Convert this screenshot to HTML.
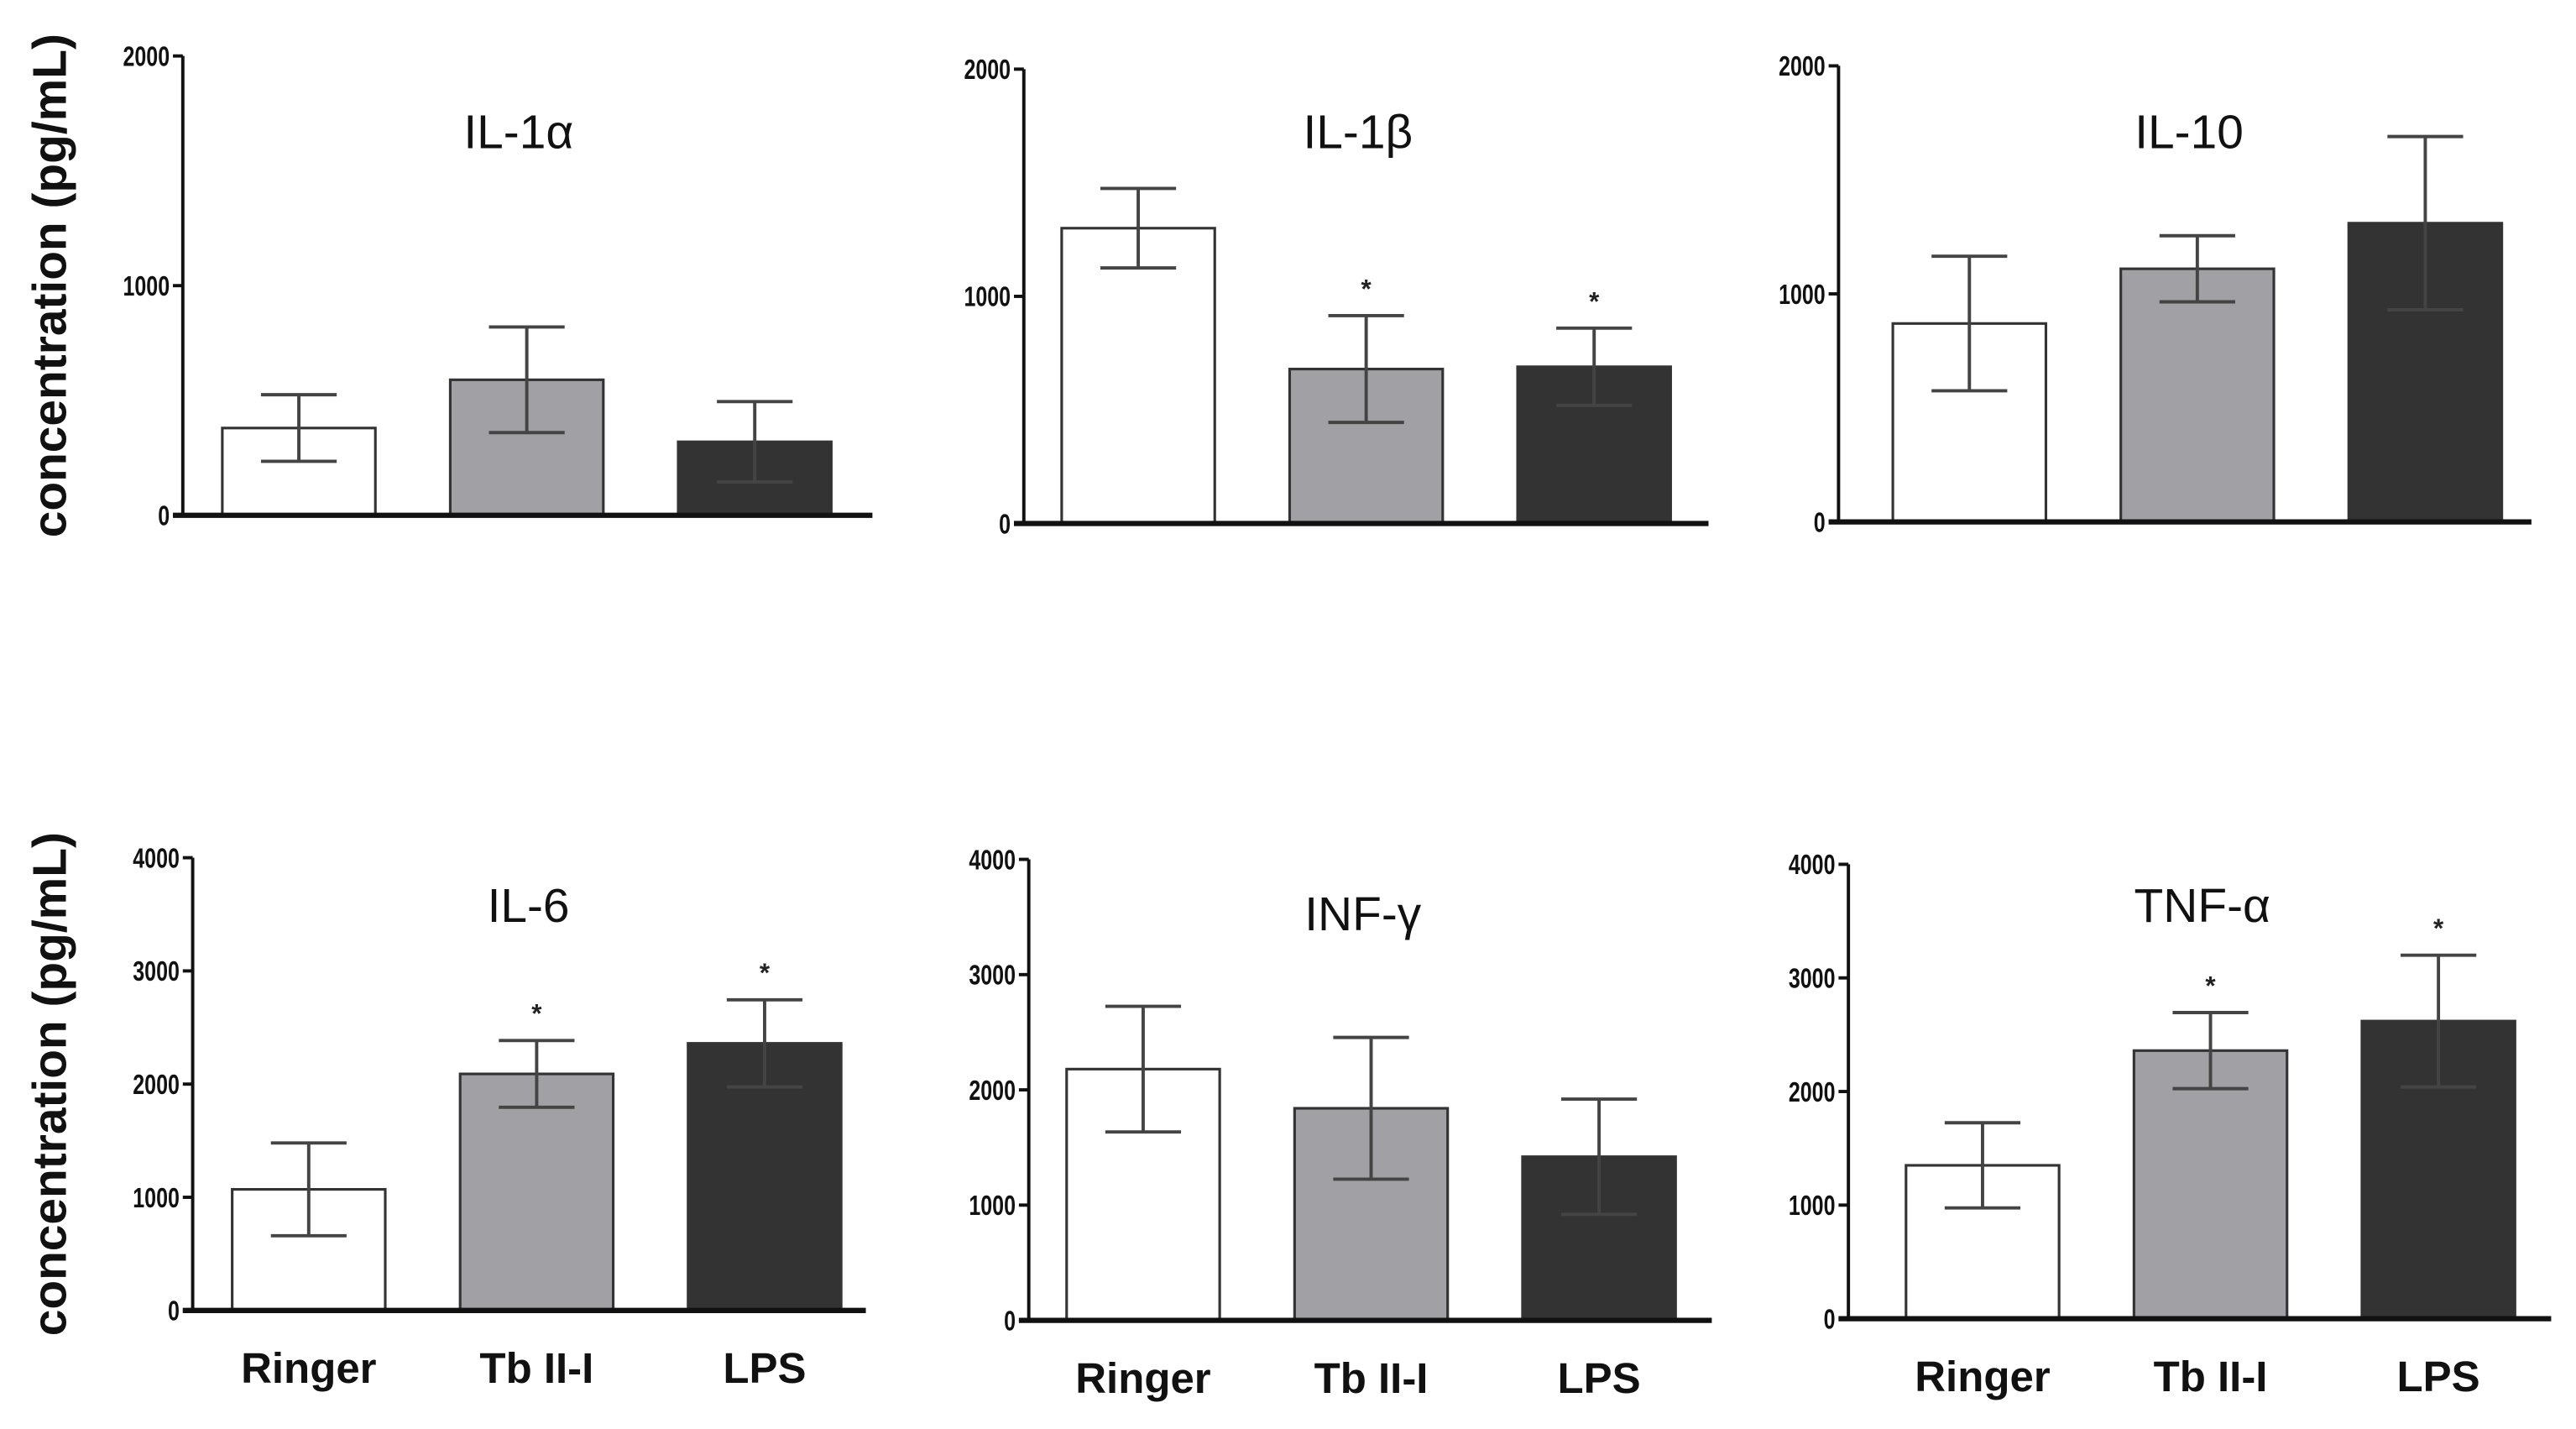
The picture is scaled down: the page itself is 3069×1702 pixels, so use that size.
<!DOCTYPE html>
<html><head><meta charset="utf-8"><style>
html,body{margin:0;padding:0;background:#fff}
svg{display:block}
text{font-family:"Liberation Sans",sans-serif}
</style></head><body>
<svg id="fig" width="3069" height="1702" viewBox="0 0 1565 868" xmlns="http://www.w3.org/2000/svg"></svg>
<script>
const categories = ["Ringer", "Tb II-I", "LPS"];
const panelTitles = ["IL-1α", "IL-1β", "IL-10", "IL-6", "INF-γ", "TNF-α"];
const yMaxes = [2000, 2000, 2000, 4000, 4000, 4000];
const tickLabels2000 = [0, 1000, 2000];
const tickLabels4000 = [0, 1000, 2000, 3000, 4000];
const meanIL1a = [380, 590, 320];
const meanIL1b = [1300, 680, 690];
const meanIL10 = [870, 1110, 1310];
const meanIL6 = [1070, 2090, 2360];
const meanINFg = [2180, 1840, 1420];
const meanTNFa = [1350, 2360, 2620];
const errIL1a = [145, 230, 175];
const errIL1b = [175, 235, 170];
const errIL10 = [295, 145, 380];
const errIL6 = [410, 295, 385];
const errINFg = [545, 615, 500];
const errTNFa = [375, 335, 580];
const starIL1b = [false, true, true];
const starIL6 = [false, true, true];
const starTNFa = [false, true, true];
const starNone = [false, false, false];

const means = [meanIL1a, meanIL1b, meanIL10, meanIL6, meanINFg, meanTNFa];
const errs = [errIL1a, errIL1b, errIL10, errIL6, errINFg, errTNFa];
const stars = [starNone, starIL1b, starNone, starIL6, starNone, starTNFa];
const ticks = [tickLabels2000, tickLabels2000, tickLabels2000, tickLabels4000, tickLabels4000, tickLabels4000];

const layout = [
  {ax:111, top:34, bot:313, b0:135, end:530, ty:80},
  {ax:622, top:42, bot:318, b0:645, end:1038, ty:80},
  {ax:1117, top:40, bot:317, b0:1150, end:1538, ty:80},
  {ax:117, top:521, bot:796, b0:141, end:526, ty:550},
  {ax:625, top:522, bot:802, b0:648, end:1040, ty:555},
  {ax:1123, top:525, bot:801, b0:1158, end:1550, ty:550}
];
const fills = ["#ffffff", "#a1a1a5", "#333333"];
const svg = document.getElementById('fig');
const NS = "http://www.w3.org/2000/svg";
function mk(tag, attrs, parent){const e=document.createElementNS(NS,tag);for(const k in attrs)e.setAttribute(k,attrs[k]);(parent||svg).appendChild(e);return e;}

layout.forEach((L, p) => {
  const g = mk('g', {});
  
  
  const yScale = v => L.bot - (v / yMaxes[p]) * (L.bot - L.top);
  const barW = 93, step = 138.5;
  const xScale = i => L.b0 + i * step;
  categories.forEach((c, i) => {
    const x = xScale(i), y = yScale(means[p][i]);
    const r = mk('rect', {x:x, y:y, width:barW, height:L.bot - y, fill:fills[i], stroke:'#333', 'stroke-width':1.6}, g);
    
    
    const cx = x + barW/2, hi = yScale(means[p][i] + errs[p][i]), lo = yScale(means[p][i] - errs[p][i]);
    const eb = mk('path', {d:`M${cx},${hi}V${lo}M${cx-23},${hi}H${cx+23}M${cx-23},${lo}H${cx+23}`, stroke:'#444', 'stroke-width':2, fill:'none'}, g);
    
    
    if (stars[p][i]) {
      const s = mk('text', {x:cx, y:hi - 11, 'font-size':16, 'font-weight':'bold', 'text-anchor':'middle', fill:'#222'}, g);
      s.textContent = '*';
      
      
    }
  });
  const ya = mk('line', {x1:L.ax, y1:L.top, x2:L.ax, y2:L.bot+1, stroke:'#111', 'stroke-width':2}, g);
  
  
  const xa = mk('line', {x1:L.ax-6, y1:L.bot, x2:L.end, y2:L.bot, stroke:'#111', 'stroke-width':3.2}, g);
  
  
  ticks[p].forEach(t => {
    const y = yScale(t);
    mk('line', {x1:L.ax-6, y1:y, x2:L.ax, y2:y, stroke:'#111', 'stroke-width':2}, g);
    const tl = mk('text', {x:L.ax-8, y:y+6, 'font-size':17, 'font-weight':'bold', 'text-anchor':'end', fill:'#111', transform:`translate(${(L.ax-8)*0.25},0) scale(0.75,1)`}, g);
    tl.textContent = t;
    
    
  });
  const title = mk('text', {x:L.b0 + step + barW/2 - 5, y:L.ty + 10, 'font-size':29, 'text-anchor':'middle', fill:'#111'}, g);
  title.textContent = panelTitles[p];
  
  
  if (p >= 3) {
    categories.forEach((c, i) => {
      const cl = mk('text', {x:xScale(i)+barW/2, y:L.bot + 44, 'font-size':26, 'font-weight':'bold', 'text-anchor':'middle', fill:'#111'}, g);
      cl.textContent = c;
      
      
    });
  }
  if (p === 0 || p === 3) {
    const cy = (L.top + L.bot) / 2 + (p===0 ? 0 : 0);
    const yt = mk('text', {x:0, y:0, 'font-size':29, 'font-weight':'bold', 'text-anchor':'middle', fill:'#111', transform:`translate(40,${cy}) rotate(-90)`}, g);
    yt.textContent = 'concentration (pg/mL)';
    
    
  }
});
</script>
</body></html>
